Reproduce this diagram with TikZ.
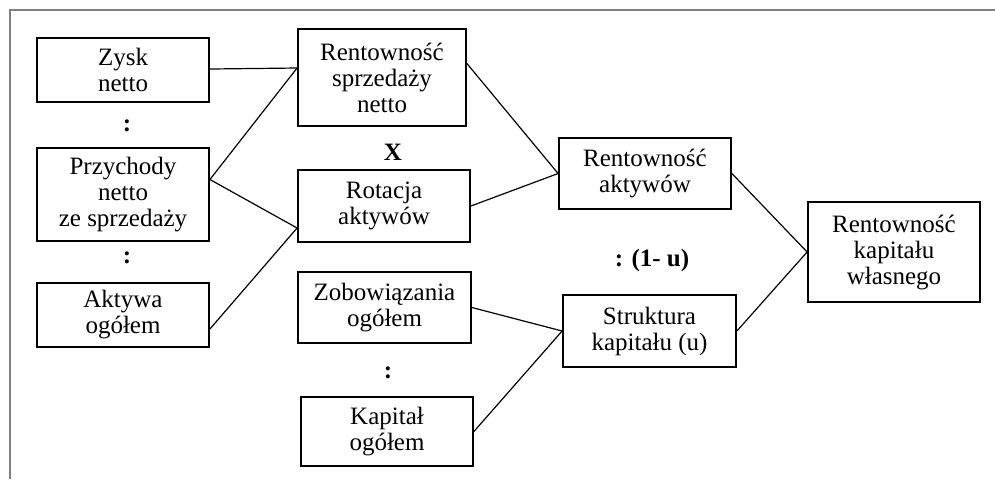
\documentclass[tikz,border=0pt]{standalone}
\usepackage{fontspec}
\setmainfont{Liberation Serif}
\begin{document}
\begin{tikzpicture}[x=0.5pt, y=-0.5pt,
  box/.style={draw, line width=0.9pt, align=center, inner sep=1pt,
    font=\fontsize{12.5}{13}\selectfont},
  sign/.style={font=\fontsize{12.5}{13}\selectfont\bfseries},
  link/.style={line width=0.6pt}]
  \useasboundingbox (0,0) rectangle (995,479);
  \draw[gray, line width=1pt] (10,479) -- (10,10) -- (995,10);

  \node[box, minimum width=86pt, minimum height=32pt] (ZN) at (123,70) {Zysk\\netto};
  \node[box, minimum width=86pt, minimum height=46.5pt] (PN) at (123,194.5) {Przychody\\netto\\ze sprzedaży};
  \node[box, minimum width=86pt, minimum height=32pt] (AO) at (123,315) {Aktywa\\ogółem};
  \node[box, minimum width=84pt, minimum height=48.5pt] (RS) at (382,77.5) {Rentowność\\sprzedaży\\netto};
  \node[box, minimum width=86pt, minimum height=36pt] (RO) at (384,206) {Rotacja\\aktywów};
  \node[box, minimum width=86.5pt, minimum height=35.5pt] (ZO) at (384.5,307.5) {Zobowiązania\\ogółem};
  \node[box, minimum width=86pt, minimum height=34.5pt] (KO) at (387,431.5) {Kapitał\\ogółem};
  \node[box, minimum width=86pt, minimum height=35.5pt] (RA) at (645,173.5) {Rentowność\\aktywów};
  \node[box, minimum width=86.5pt, minimum height=36pt] (SK) at (649.5,331) {Struktura\\kapitału (u)};
  \node[box, minimum width=86pt, minimum height=50pt] (RK) at (894,252) {Rentowność\\kapitału\\własnego};

  \node[sign] (D1) at (127,126) {:};
  \node[sign] (D2) at (127,258) {:};
  \node[sign] (MX) at (393,152) {X};
  \node[sign] (D3) at (388,373) {:};
  \node[sign] (DU) at (652,260) {: (1- u)};

  \draw[link] (ZN) -- ([yshift=4.75pt]RS.west) ;
  \draw[link] ([yshift=7.5pt]PN.east) -- ([yshift=4.75pt]RS.west) ;
  \draw[link] ([yshift=7.5pt]PN.east) -- ([yshift=-11pt]RO.west) ;
  \draw[link] ([yshift=-7pt]AO.east) -- ([yshift=-11pt]RO.west) ;
  \draw[link] ([yshift=7pt]RS.east) -- (RA.west) ;
  \draw[link] (RO.east) -- (RA.west) ;
  \draw[link] (ZO.east) -- (SK.west) ;
  \draw[link] (KO.east) -- (SK.west) ;
  \draw[link] (RA.east) -- (RK.west) ;
  \draw[link] (SK.east) -- (RK.west) ;
\end{tikzpicture}
\end{document}
